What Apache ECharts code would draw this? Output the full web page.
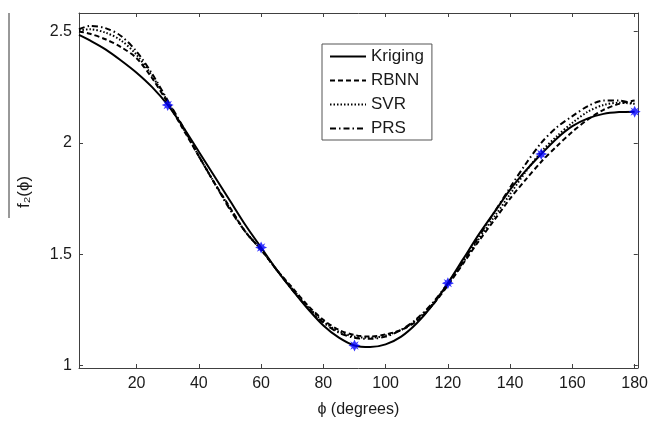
<!DOCTYPE html>
<html>
<head>
<meta charset="utf-8">
<script src="https://cdn.jsdelivr.net/npm/echarts@6/dist/echarts.min.js"></script>
<style>html,body{margin:0;padding:0;background:#fff}#c{width:651px;height:423px}</style>
</head>
<body>
<div id="c"></div>
<script>
// phi in degrees
var phi     = [1.5, 5, 10, 15, 20, 25, 30, 35, 40, 45, 50, 55, 60, 65, 70, 75, 80, 85, 90, 95, 100, 105, 110, 115, 120, 125, 130, 135, 140, 145, 150, 155, 160, 165, 170, 175, 180];
var kriging = [2.485, 2.46, 2.42, 2.37, 2.315, 2.25, 2.17, 2.07, 1.96, 1.85, 1.74, 1.63, 1.53, 1.43, 1.34, 1.255, 1.18, 1.125, 1.09, 1.083, 1.095, 1.13, 1.19, 1.27, 1.37, 1.48, 1.59, 1.69, 1.79, 1.875, 1.95, 2.02, 2.075, 2.11, 2.13, 2.138, 2.14];
var rbnn    = [2.50, 2.49, 2.465, 2.43, 2.38, 2.29, 2.18, 2.06, 1.94, 1.82, 1.71, 1.60, 1.52, 1.43, 1.35, 1.27, 1.205, 1.16, 1.137, 1.13, 1.14, 1.16, 1.20, 1.27, 1.36, 1.46, 1.56, 1.655, 1.75, 1.835, 1.915, 1.985, 2.05, 2.105, 2.148, 2.175, 2.19];
var svr     = [2.505, 2.51, 2.495, 2.46, 2.395, 2.30, 2.185, 2.065, 1.94, 1.82, 1.705, 1.60, 1.52, 1.43, 1.345, 1.265, 1.198, 1.152, 1.13, 1.125, 1.135, 1.16, 1.205, 1.275, 1.365, 1.465, 1.57, 1.67, 1.77, 1.87, 1.96, 2.03, 2.09, 2.14, 2.17, 2.18, 2.175];
var prs     = [2.51, 2.525, 2.515, 2.48, 2.41, 2.31, 2.19, 2.07, 1.94, 1.82, 1.70, 1.60, 1.52, 1.43, 1.34, 1.26, 1.193, 1.147, 1.125, 1.12, 1.13, 1.16, 1.21, 1.28, 1.37, 1.47, 1.58, 1.69, 1.80, 1.905, 2.0, 2.07, 2.12, 2.165, 2.19, 2.19, 2.175];
var sampleX = [30, 60, 90, 120, 150, 180];
var sampleY = [2.17, 1.53, 1.09, 1.37, 1.95, 2.14];
var xTicks  = [20, 40, 60, 80, 100, 120, 140, 160, 180];
var yTicks  = [1, 1.5, 2, 2.5];

function pairs(xs, ys) { return xs.map(function (x, i) { return [x, ys[i]]; }); }

var FONT = '"Liberation Sans", Arial, Helvetica, sans-serif';
var AX = '#404040';
var TXT = '#1a1a1a';
var chart = echarts.init(document.getElementById('c'), null, {renderer: 'canvas'});

function xAx(pos, show) {
  return {
    type: 'value', position: pos, min: 1.5, max: 181,
    axisLine: {show: true, onZero: false, lineStyle: {color: AX, width: 1}},
    axisTick: {show: true, inside: true, length: 4, customValues: xTicks, lineStyle: {color: AX}},
    axisLabel: {show: show, customValues: xTicks, fontSize: 16, color: TXT, fontFamily: FONT, margin: 8},
    splitLine: {show: false}
  };
}
function yAx(pos, show) {
  return {
    type: 'value', position: pos, min: 0.989, max: 2.583,
    axisLine: {show: true, onZero: false, lineStyle: {color: AX, width: 1}},
    axisTick: {show: true, inside: true, length: 4, customValues: yTicks, lineStyle: {color: AX}},
    axisLabel: {show: show, customValues: yTicks, fontSize: 16, color: TXT, fontFamily: FONT, margin: 7},
    splitLine: {show: false}
  };
}

var xb = xAx('bottom', true);
xb.name = '\u03D5 (degrees)';
xb.nameLocation = 'middle';
xb.nameGap = 34;
xb.nameTextStyle = {fontSize: 16, color: TXT, fontFamily: FONT};

function lineSeries(name, data, type) {
  return {
    name: name, type: 'line', data: pairs(phi, data), smooth: 0.3,
    symbol: 'none', showSymbol: false, z: 3,
    itemStyle: {color: '#000'},
    lineStyle: {color: '#000', width: 2, type: type}
  };
}

chart.setOption({
  animation: false,
  backgroundColor: '#fff',
  grid: {left: 79, right: 9, top: 13, bottom: 55},
  xAxis: [xb, xAx('top', false)],
  yAxis: [yAx('left', true), yAx('right', false)],
  legend: {
    orient: 'vertical', left: 322, top: 44,
    padding: [4, 8, 3, 7], itemWidth: 36, itemHeight: 14, itemGap: 7,
    backgroundColor: '#fff', borderColor: '#555', borderWidth: 1, borderRadius: 0,
    itemStyle: {opacity: 0},
    textStyle: {fontSize: 17, color: TXT, fontFamily: FONT},
    data: ['Kriging', 'RBNN', 'SVR', 'PRS']
  },
  graphic: [
    {type: 'line', shape: {x1: 9, y1: 13, x2: 9, y2: 218}, style: {stroke: '#333', lineWidth: 1}},
    {type: 'text', x: 24, y: 192, rotation: Math.PI / 2,
     style: {text: 'f\u2082(\u03D5)', fontSize: 17, fontFamily: FONT, fill: TXT, textAlign: 'center', textVerticalAlign: 'middle'}}
  ],
  series: [
    lineSeries('Kriging', kriging, 'solid'),
    lineSeries('RBNN', rbnn, [5, 3]),
    lineSeries('SVR', svr, [1.5, 2]),
    lineSeries('PRS', prs, [6, 3, 1.5, 3]),
    {
      name: 'samples', type: 'scatter', data: pairs(sampleX, sampleY), z: 5,
      symbol: 'path://M0,-10 L2.6,-4.5 L7,-7 L4.5,-2.6 L10,0 L4.5,2.6 L7,7 L2.6,4.5 L0,10 L-2.6,4.5 L-7,7 L-4.5,2.6 L-10,0 L-4.5,-2.6 L-7,-7 L-2.6,-4.5 Z',
      symbolSize: 12, itemStyle: {color: '#0000ff'}
    }
  ]
});
</script>
</body>
</html>
